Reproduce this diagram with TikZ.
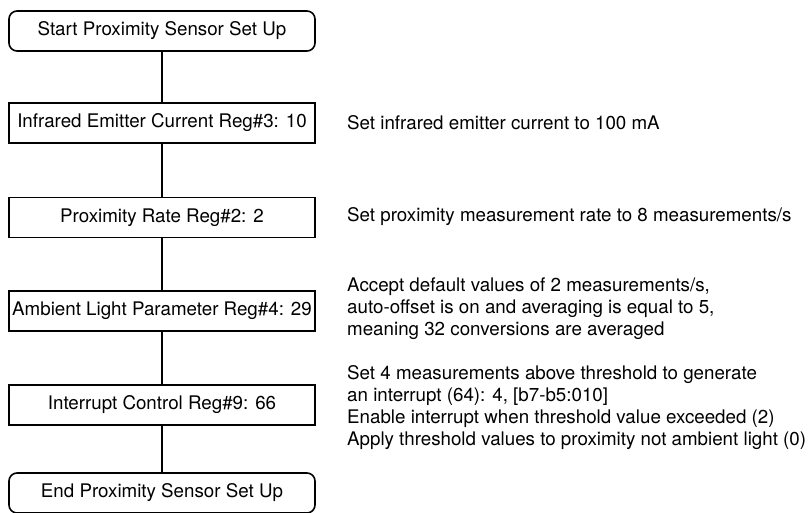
\documentclass[tikz,border=0pt]{standalone}
\usepackage{fontspec}
\setmainfont{TeX Gyre Heros}
\usetikzlibrary{positioning}

\begin{document}
\begin{tikzpicture}[x=1pt,y=-1pt]
  \useasboundingbox (0,0) rectangle (812,513);

  \begin{scope}[every node/.style={draw,line width=1.6pt,minimum width=306pt,minimum height=40pt,inner sep=2pt,
      font=\fontsize{18.75}{22}\selectfont}]
    \node[rounded corners=8pt] (start) at (162,31) {Start Proximity Sensor Set Up};
    \node (irreg) at (162,123) {Infrared Emitter Current Reg\#3: 10};
    \node (ratereg) at (162,217.5) {Proximity Rate Reg\#2: 2};
    \node (alsreg) at (162,311) {Ambient Light Parameter Reg\#4: 29};
    \node (intreg) at (162,405) {Interrupt Control Reg\#9: 66};
    \node[rounded corners=8pt] (stop) at (162,493) {End Proximity Sensor Set Up};
  \end{scope}

  \begin{scope}[every node/.style={anchor=west,align=left,inner sep=0pt,
      font=\fontsize{18.75}{22}\selectfont}]
    \node (irnote) at (347,123) {Set infrared emitter current to 100 mA};
    \node (ratenote) at (347,217) {Set proximity measurement rate to 8 measurements/s};
    \node (alsnote) at (347,309) {Accept default values of 2 measurements/s,\\
      auto-offset is on and averaging is equal to 5,\\
      meaning 32 conversions are averaged};
    \node (intnote) at (347,408) {Set 4 measurements above threshold to generate\\
      an interrupt (64): 4, [b7-b5:010]\\
      Enable interrupt when threshold value exceeded (2)\\
      Apply threshold values to proximity not ambient light (0)};
  \end{scope}

  \begin{scope}[every edge/.style={draw=black,line width=1.6pt}]
    \path (start) edge (irreg);
    \path (irreg) edge (ratereg);
    \path (ratereg) edge (alsreg);
    \path (alsreg) edge (intreg);
    \path (intreg) edge (stop);
  \end{scope}
\end{tikzpicture}
\end{document}
